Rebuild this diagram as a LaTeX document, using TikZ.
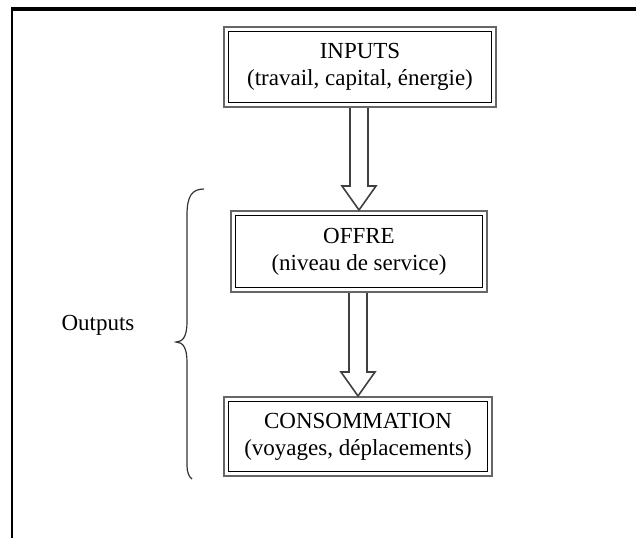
\documentclass[tikz,border=0pt]{standalone}
\usepackage{fontspec}
\setmainfont{Liberation Serif}
\usetikzlibrary{calc}

\tikzset{
  boite/.style={draw=black!60, line width=1.2pt, fill=white, align=center, inner sep=0pt,
    font=\fontsize{11.5}{13.5}\selectfont},
  fleche/.style={draw=black!75, line width=0.8pt, fill=white, line join=miter},
  accolade/.style={draw=black!80, line width=0.6pt}
}

\begin{document}
\begin{tikzpicture}[x=0.5pt,y=-0.5pt]
\useasboundingbox (0,0) rectangle (636,538);
%cadre
\draw[line width=2pt] (11,9) -- (636,9);
\draw[line width=1pt] (12,7) -- (12,538);
%boites
\node[boite, minimum width=135.8pt, minimum height=39.8pt] (inputs) at (360,67) {INPUTS\\(travail, capital, énergie)};
\node[boite, minimum width=127.8pt, minimum height=40.3pt] (offre) at (359,251.5) {OFFRE\\(niveau de service)};
\node[boite, minimum width=133.8pt, minimum height=39.3pt] (conso) at (358,436.5) {CONSOMMATION\\(voyages, déplacements)};
\foreach \b in {inputs,offre,conso}
  \draw[line width=0.5pt] ([shift={(2.6pt,-2.6pt)}]\b.north west) rectangle ([shift={(-2.6pt,2.6pt)}]\b.south east);
%fleches
\draw[fleche] ($(inputs.south -| offre.north)+(-9,0)$) -- ($(offre.north)+(-9,-24)$) -- ($(offre.north)+(-17,-24)$) -- (offre.north) -- ($(offre.north)+(17,-24)$) -- ($(offre.north)+(9,-24)$) -- ($(inputs.south -| offre.north)+(9,0)$);
\draw[fleche] ($(offre.south -| conso.north)+(-9,0)$) -- ($(conso.north)+(-9,-24)$) -- ($(conso.north)+(-17,-24)$) -- (conso.north) -- ($(conso.north)+(17,-24)$) -- ($(conso.north)+(9,-24)$) -- ($(offre.south -| conso.north)+(9,0)$);
%accolade
\coordinate (hautacc) at (204,189);
\coordinate (pointe) at (176,342);
\coordinate (basacc) at (192,479);
\draw[accolade] (hautacc) .. controls (192,189) and (187,196) .. (187,215) -- (187,322) .. controls (187,336) and (183,342) .. (pointe) .. controls (183,342) and (187,348) .. (187,362) -- (187,466) .. controls (187,472) and (189,477) .. (basacc);
%Text
\node[font=\fontsize{11.5}{13.5}\selectfont] (outputs) at (98,325) {Outputs};
\end{tikzpicture}
\end{document}
